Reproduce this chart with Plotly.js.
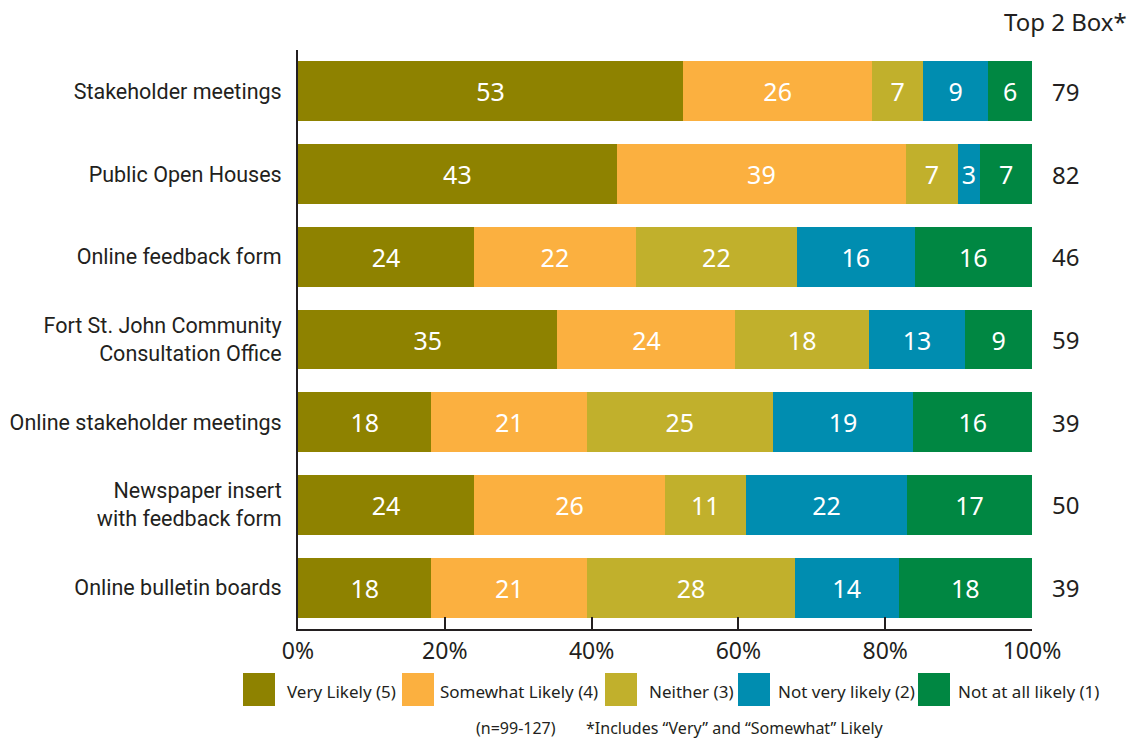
<!DOCTYPE html>
<html>
<head>
<meta charset="utf-8">
<script src="https://cdn.plot.ly/plotly-3.0.1.min.js"></script>
<style>
html,body{margin:0;padding:0;background:#fff;}
#chart{width:1131px;height:740px;}
</style>
</head>
<body>
<div id="chart"></div>
<script>
// ---- data ----
const categories = [
  "Stakeholder meetings",
  "Public Open Houses",
  "Online feedback form",
  "Fort St. John Community<br>Consultation Office",
  "Online stakeholder meetings",
  "Newspaper insert<br>with feedback form",
  "Online bulletin boards"
];
const seriesNames = ["Very Likely (5)", "Somewhat Likely (4)", "Neither (3)", "Not very likely (2)", "Not at all likely (1)"];
const veryLikely     = [53, 43, 24, 35, 18, 24, 18];
const somewhatLikely = [26, 39, 22, 24, 21, 26, 21];
const neither        = [7, 7, 22, 18, 25, 11, 28];
const notVeryLikely  = [9, 3, 16, 13, 19, 22, 14];
const notAtAllLikely = [6, 7, 16, 9, 16, 17, 18];
const top2Box        = [79, 82, 46, 59, 39, 50, 39];
const xTickVals      = [0, 20, 40, 60, 80, 100];
const sampleNote     = "(n=99-127)";
const top2Note       = "*Includes \u201cVery\u201d and \u201cSomewhat\u201d Likely";
const top2Title      = "Top 2 Box*";

// ---- styles ----
const colors = ["#8e8200", "#fbb040", "#c1b02c", "#008db0", "#008742"];
const dark = "#231f20";
const numFont = "Noto Sans, Open Sans, sans-serif";
const labelFont = "Roboto, Noto Sans, sans-serif";

const M = {l: 298, r: 99, t: 50, b: 111};
const W = 1131, H = 740;
const PW = W - M.l - M.r, PH = H - M.t - M.b;
const px = v => (v - M.l) / PW;
const py = v => (H - M.b - v) / PH;

const values = [veryLikely, somewhatLikely, neither, notVeryLikely, notAtAllLikely];
const traces = values.map((vals, i) => ({
  type: "bar",
  orientation: "h",
  name: seriesNames[i],
  x: vals,
  y: categories,
  text: vals.map(String),
  texttemplate: "%{text}",
  textposition: "inside",
  insidetextanchor: "middle",
  constraintext: "none",
  textangle: 0,
  textfont: {family: numFont, size: 25, color: "#ffffff"},
  marker: {color: colors[i], line: {width: 0}},
  hoverinfo: "skip",
  showlegend: false
}));

const annotations = [];
// Top 2 box values
categories.forEach((c, i) => {
  annotations.push({
    xref: "paper", yref: "y", x: 1, y: c, xanchor: "left", yanchor: "middle",
    xshift: 18, text: String(top2Box[i]), showarrow: false,
    font: {family: numFont, size: 24, color: dark}
  });
});
annotations.push({
  xref: "paper", yref: "paper", x: px(1129), y: py(22), xanchor: "right", yanchor: "middle",
  text: top2Title, showarrow: false, font: {family: numFont, size: 24, color: dark}
});
// legend (manual)
const legSq = [243, 402, 605, 738, 918];
const legTx = [285, 438, 647, 776, 956];
const shapes = [];
seriesNames.forEach((n, i) => {
  shapes.push({
    type: "rect", xref: "paper", yref: "paper",
    x0: px(legSq[i]), x1: px(legSq[i] + 32), y0: py(706), y1: py(673),
    fillcolor: colors[i], line: {width: 0}
  });
  annotations.push({
    xref: "paper", yref: "paper", x: px(legTx[i]), y: py(691), xanchor: "left", yanchor: "middle",
    text: n, showarrow: false, font: {family: numFont, size: 17, color: dark}
  });
});
annotations.push({
  xref: "paper", yref: "paper", x: px(474), y: py(728), xanchor: "left", yanchor: "middle",
  text: sampleNote, showarrow: false, font: {family: numFont, size: 16, color: dark}
});
annotations.push({
  xref: "paper", yref: "paper", x: px(584), y: py(728), xanchor: "left", yanchor: "middle",
  text: top2Note, showarrow: false, font: {family: numFont, size: 16, color: dark}
});

const layout = {
  width: W, height: H,
  margin: M,
  paper_bgcolor: "#ffffff",
  plot_bgcolor: "#ffffff",
  barmode: "stack",
  barnorm: "percent",
  bargap: 0.275,
  showlegend: false,
  xaxis: {
    range: [0, 100],
    tickvals: xTickVals,
    ticktext: xTickVals.map(v => v + "%"),
    showgrid: false, zeroline: false,
    showline: true, linecolor: dark, linewidth: 2,
    ticks: "inside", ticklen: 12, tickwidth: 2, tickcolor: dark,
    tickfont: {family: numFont, size: 23, color: dark},
    fixedrange: true
  },
  yaxis: {
    autorange: "reversed",
    showgrid: false, zeroline: false,
    showline: true, linecolor: dark, linewidth: 2,
    ticks: "", ticklabelstandoff: 10,
    tickfont: {family: labelFont, size: 21.5, color: dark},
    fixedrange: true
  },
  annotations: annotations,
  shapes: shapes
};

Plotly.newPlot("chart", traces, layout, {displayModeBar: false, staticPlot: true});
</script>
</body>
</html>
